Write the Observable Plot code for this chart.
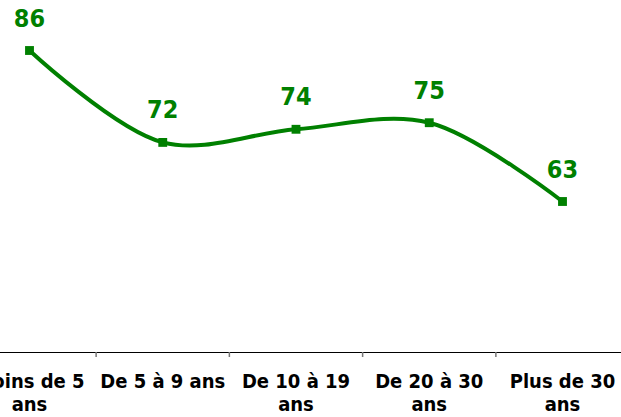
<!DOCTYPE html>
<html><head><meta charset="utf-8">
<script src="https://cdn.jsdelivr.net/npm/d3@7"></script>
<script src="https://cdn.jsdelivr.net/npm/@observablehq/plot@0.6"></script>
<style>
body{margin:0;background:#fff;}
#chart svg{display:block;}
</style>
</head><body><div id="chart"></div>
<script>
const categories = ["Moins de 5\nans", "De 5 à 9 ans", "De 10 à 19\nans", "De 20 à 30\nans", "Plus de 30\nans"];
const values = [86, 72, 74, 75, 63];
const data = categories.map((c, i) => ({i, c, v: values[i]}));
const green = "#008000";
const font = "'DejaVu Sans Condensed', 'DejaVu Sans', sans-serif";

const chart = Plot.plot({
  width: 621, height: 417,
  marginTop: 0, marginBottom: 65, marginLeft: 0, marginRight: 0,
  style: {fontFamily: font, background: "#fff", overflow: "hidden"},
  x: {type: "linear", domain: [0, 4], range: [29, 562], label: null},
  y: {domain: [40, 86], range: [352, 50], axis: null},
  marks: [
    Plot.ruleY([40], {stroke: "#000", strokeWidth: 1.2}),
    Plot.axisX([0.5, 1.5, 2.5, 3.5], {tickSize: 5, stroke: "#777", tickFormat: () => "", strokeWidth: 1.5, label: null}),
    Plot.axisX([0, 1, 2, 3, 4], {tickSize: 0, tickPadding: 19, tickFormat: d => categories[d], fontSize: 20, fontWeight: "bold", fill: "#000", lineHeight: 1.15, label: null}),
    Plot.line(data, {x: "i", y: "v", stroke: green, strokeWidth: 4, curve: "catmull-rom"}),
    Plot.dot(data, {x: "i", y: "v", symbol: "square", r: 5, fill: green}),
    Plot.text(data, {x: "i", y: "v", text: d => String(d.v), dy: -32, fill: green, fontSize: 25, fontWeight: "bold"})
  ]
});
document.getElementById("chart").appendChild(chart);
</script></body></html>
